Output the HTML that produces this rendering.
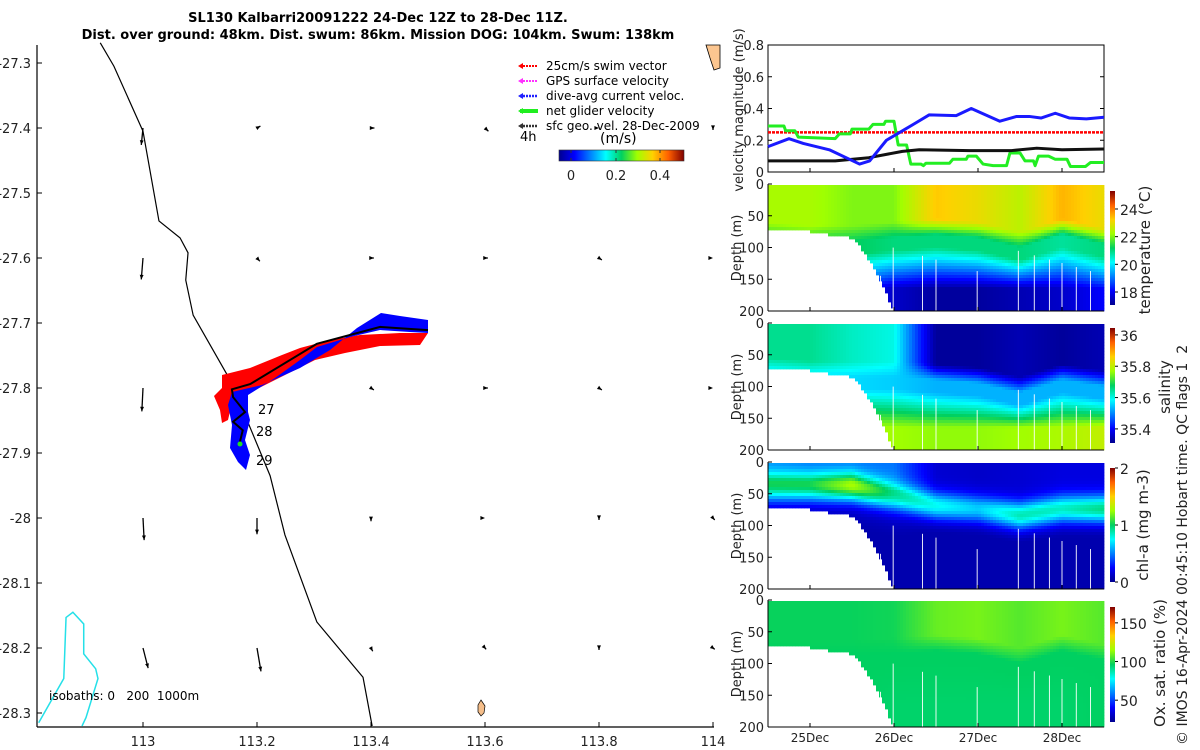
<!DOCTYPE html>
<html><head><meta charset="utf-8"><style>
body{margin:0;background:#fff;width:1200px;height:750px;overflow:hidden}
svg{display:block;font-family:"DejaVu Sans","Liberation Sans",sans-serif}
text{white-space:pre}
</style></head><body>
<svg id="s" width="1200" height="750" xmlns="http://www.w3.org/2000/svg">
<defs>
<linearGradient id="jetV" x1="0" y1="1" x2="0" y2="0">
<stop offset="0" stop-color="#00008f"/><stop offset="0.125" stop-color="#0000ff"/><stop offset="0.375" stop-color="#00ffff"/><stop offset="0.5" stop-color="#00d060"/><stop offset="0.625" stop-color="#a0ff00"/><stop offset="0.75" stop-color="#ffd000"/><stop offset="0.875" stop-color="#ff6000"/><stop offset="1" stop-color="#800000"/></linearGradient>
<linearGradient id="jetH" x1="0" y1="0" x2="1" y2="0">
<stop offset="0" stop-color="#00008f"/><stop offset="0.125" stop-color="#0000ff"/><stop offset="0.375" stop-color="#00ffff"/><stop offset="0.5" stop-color="#00d060"/><stop offset="0.625" stop-color="#a0ff00"/><stop offset="0.75" stop-color="#ffd000"/><stop offset="0.875" stop-color="#ff6000"/><stop offset="1" stop-color="#800000"/></linearGradient>
</defs>
<text x="378" y="22" text-anchor="middle" font-size="13" font-weight="bold">SL130 Kalbarri20091222 24-Dec 12Z to 28-Dec 11Z.</text>
<text x="378" y="39" text-anchor="middle" font-size="13" font-weight="bold">Dist. over ground: 48km. Dist. swum: 86km. Mission DOG: 104km. Swum: 138km</text>
<g id="map"></g>
<g id="right"></g>
</svg>
<script>
// ---- velocity panel data (days since 24-Dec 12Z) ----
const blueT=[0,0.25,0.42,0.73,1.09,1.21,1.41,1.73,1.92,2.24,2.42,2.76,2.96,3.11,3.25,3.42,3.59,3.79,4];
const blueV=[0.16,0.21,0.18,0.14,0.05,0.07,0.2,0.3,0.36,0.355,0.4,0.32,0.35,0.35,0.34,0.37,0.34,0.335,0.345];
const greenT=[0,0.19,0.21,0.32,0.36,0.8,0.85,0.98,1.0,1.2,1.25,1.38,1.4,1.5,1.55,1.65,1.7,1.82,1.85,1.88,2.16,2.2,2.36,2.38,2.48,2.56,2.68,2.84,2.88,3.0,3.06,3.16,3.18,3.22,3.34,3.42,3.56,3.6,3.78,3.84,4];
const greenV=[0.29,0.29,0.26,0.26,0.22,0.21,0.24,0.24,0.27,0.27,0.3,0.3,0.32,0.32,0.17,0.17,0.05,0.05,0.04,0.055,0.055,0.08,0.08,0.1,0.1,0.05,0.04,0.04,0.12,0.12,0.07,0.07,0.04,0.1,0.1,0.08,0.08,0.035,0.035,0.06,0.06];
const blackT=[0,0.8,1.2,1.6,1.8,2.4,2.9,3.2,3.5,4];
const blackV=[0.07,0.07,0.09,0.13,0.14,0.135,0.135,0.15,0.14,0.145];
const swimV=0.25;
const velTicks=[0,0.2,0.4,0.6,0.8];
const dayLabels=["25Dec","26Dec","27Dec","28Dec"];
const dayTicks=[0.5,1.5,2.5,3.5];
// ---- section profiles at t=0,0.5,...,4 ----
const profT=[0,0.5,1,1.5,2,2.5,3,3.5,4];
const tempUpper=[22.3,22.3,22.0,22.0,23.3,23.0,22.5,23.5,23.0];
const tempMld=[60,65,65,60,55,60,75,55,70];
const tempMid=[21.3,21.3,21.2,21.0,21.0,21.0,21.0,20.8,21.0];
const tempDeep=[18.5,18.5,18.3,17.6,17.2,17.2,17.4,17.6,18.1];
const salUpper=[35.65,35.65,35.62,35.6,35.32,35.32,35.34,35.32,35.34];
const salMld=[55,60,60,60,65,70,85,65,75];
const salMid=[35.56,35.56,35.56,35.55,35.53,35.53,35.53,35.53,35.53];
const salDeep=[35.78,35.78,35.78,35.77,35.76,35.76,35.77,35.78,35.8];
const chlSurf=[0.5,0.45,0.45,0.45,0.12,0.1,0.12,0.15,0.15];
const chlPeak=[0.6,0.65,0.9,0.55,0.65,0.55,0.75,0.7,0.8];
const chlPeakDepth=[40,40,40,55,70,75,85,75,75];
const oxUpper=[97,97,97,98,108,110,106,110,106];
const oxMld=[60,65,65,60,55,60,75,55,70];
const oxMid=[96,96,96,96,96,96,96,96,96];
const oxDeep=[96,96,96,95,95,95,95,95,96];
const bottomT=[0,0.25,0.5,0.75,1.0,1.1,1.25,1.4,1.5,4];
const bottomD=[70,72,75,80,85,100,130,170,200,205];
const gapT=[1.34,1.49,1.84,2.0,2.49,2.98,3.17,3.35,3.5,3.67,3.84];
// ---- map data ----
const isoT200=[[112.925,-27.269],[112.949,-27.305],[113.0,-27.405],[113.028,-27.543],[113.065,-27.569],[113.079,-27.592],[113.075,-27.634],[113.088,-27.688],[113.153,-27.788],[113.179,-27.842],[113.223,-27.935],[113.249,-28.026],[113.305,-28.16],[113.386,-28.245],[113.402,-28.32]];
const isoT1000=[[112.817,-28.315],[112.861,-28.247],[112.865,-28.153],[112.877,-28.145],[112.896,-28.163],[112.896,-28.209],[112.917,-28.232],[112.921,-28.247],[112.9,-28.307],[112.893,-28.32]];
const trackLon=[113.5,113.416,113.305,113.188,113.156,113.158,113.179,113.158,113.175,113.17];
const trackLat=[-27.711,-27.706,-27.732,-27.794,-27.802,-27.814,-27.837,-27.852,-27.865,-27.883];
const arrowLon=[113,113.2,113.4,113.6,113.8,114];
const arrowLat=[-27.4,-27.6,-27.8,-28.0,-28.2];
const arrowU=[[-0.003,0.006,0.006,0.006,0,0],[-0.003,0.005,0.005,0.005,0.005,0],[-0.002,0,0.005,0.005,0.005,0],[0.002,0,0,0,0,0.003],[0.009,0.007,0.003,0.002,0,0.003]];
const arrowV=[[-0.026,0.003,0,-0.005,0,-0.003],[-0.033,-0.005,0,0,-0.003,0],[-0.036,0,-0.003,0,-0.003,0],[-0.034,-0.025,-0.005,0,-0.003,-0.003],[-0.031,-0.036,-0.005,-0.002,-0.003,-0.002]];

const NS="http://www.w3.org/2000/svg";
function mk(parent,tag,attrs,text){const e=document.createElementNS(NS,tag);for(const k in attrs)e.setAttribute(k,attrs[k]);if(text!==undefined)e.textContent=text;parent.appendChild(e);return e;}
function jet(f){f=Math.max(0,Math.min(1,f));const st=[[0,0,0,143],[0.125,0,0,255],[0.375,0,255,255],[0.5,0,208,96],[0.625,160,255,0],[0.75,255,208,0],[0.875,255,96,0],[1,128,0,0]];
for(let i=1;i<st.length;i++){if(f<=st[i][0]){const a=st[i-1],b=st[i],u=(f-a[0])/(b[0]-a[0]);return `rgb(${Math.round(a[1]+u*(b[1]-a[1]))},${Math.round(a[2]+u*(b[2]-a[2]))},${Math.round(a[3]+u*(b[3]-a[3]))})`;}}return "rgb(128,0,0)";}
function interp(xs,ys,x){if(x<=xs[0])return ys[0];for(let i=1;i<xs.length;i++){if(x<=xs[i]){const u=(x-xs[i-1])/(xs[i]-xs[i-1]);return ys[i-1]+u*(ys[i]-ys[i-1]);}}return ys[ys.length-1];}

// ================= MAP =================
const map=document.getElementById('map');
const lonX=lon=>143+(lon-113)*570, latY=lat=>63+(-27.3-lat)*650;
mk(map,'line',{x1:37,y1:45,x2:37,y2:727,stroke:'#000','stroke-width':1.2,});
mk(map,'line',{x1:37,y1:727,x2:714,y2:727,stroke:'#000','stroke-width':1.2,});
[-27.3,-27.4,-27.5,-27.6,-27.7,-27.8,-27.9,-28,-28.1,-28.2,-28.3].forEach(l=>{const y=latY(l);
mk(map,'line',{x1:37,y1:y,x2:42,y2:y,stroke:'#000'});
const t=mk(map,'text',{x:31,y:y+5,'text-anchor':'end','font-size':13,fill:'#222'},String(l));
});
[113,113.2,113.4,113.6,113.8,114].forEach(l=>{const x=lonX(l);
mk(map,'line',{x1:x,y1:727,x2:x,y2:722,stroke:'#000'});
const t=mk(map,'text',{x:x,y:746,'text-anchor':'middle','font-size':13,fill:'#222'},String(l));
});
mk(map,'path',{d:'M706,45 L720,45 L720,68 L714,70 L710,58 Z',fill:'#fcc690',stroke:'#000','stroke-width':0.8,});
mk(map,'path',{d:'M481,700 L485,706 L484,713 L481,716 L478,712 L478,705 Z',fill:'#f5be8a',stroke:'#000','stroke-width':0.7,});
const p200=mk(map,'polyline',{points:isoT200.map(p=>lonX(p[0])+','+latY(p[1])).join(' '),fill:'none',stroke:'#000','stroke-width':1.2});

const p1000=mk(map,'polyline',{points:isoT1000.map(p=>lonX(p[0])+','+latY(p[1])).join(' '),fill:'none',stroke:'#25e0e8','stroke-width':1.5});

mk(map,'text',{x:49,y:700,'font-size':12,'xml:space':'preserve',},'isobaths: 0   200  1000m');
arrowLat.forEach((la,i)=>arrowLon.forEach((lo,j)=>{const x1=lonX(lo),y1=latY(la);const x2=lonX(lo+arrowU[i][j]),y2=latY(la+arrowV[i][j]);
const g=mk(map,'g',{});
mk(g,'line',{x1:x1,y1:y1,x2:x2,y2:y2,stroke:'#000','stroke-width':1.3});
const a=Math.atan2(y2-y1,x2-x1),h=5;
mk(g,'path',{d:`M${x2},${y2} L${x2-h*Math.cos(a-0.4)},${y2-h*Math.sin(a-0.4)} L${x2-h*Math.cos(a+0.4)},${y2-h*Math.sin(a+0.4)} Z`,fill:'#000'});}));
mk(map,'path',{d:'M222,375 L250,368 L282,355 L300,348 L330,340 L360,335 L400,333 L428,333 L420,345 L380,346 L345,353 L315,360 L285,375 L255,390 L240,398 L232,403 L228,420 L222,423 L220,410 L214,396 L222,388 Z',fill:'#ff0000',});
mk(map,'path',{d:'M232,392 L262,385 L300,368 L330,350 L357,328 L381,313 L400,316 L428,320 L428,333 L410,332 L380,330 L350,337 L317,347 L300,360 L275,378 L248,395 L248,412 L250,420 L245,440 L250,455 L246,470 L238,462 L230,448 L232,425 L228,405 Z',fill:'#0000ff',});
const tr=mk(map,'polyline',{points:trackLon.map((l,i)=>lonX(l)+','+latY(trackLat[i])).join(' '),fill:'none',stroke:'#000','stroke-width':2});

mk(map,'circle',{cx:240,cy:444,r:2.5,fill:'#22dd22',});
[['27',258,414],['28',256,436],['29',256,465]].forEach(d=>{const t=mk(map,'text',{x:d[1],y:d[2],'font-size':13},d[0]);});
const leg=[['#ff0000','25cm/s swim vector',1],['#ff30ff','GPS surface velocity',1],['#2020ff','dive-avg current veloc.',1.5],['#20ee20','net glider velocity',3],['#333','sfc geo. vel. 28-Dec-2009',1.5]];
leg.forEach((l,i)=>{const y=66+i*15;const g=mk(map,'g',{});
mk(g,'line',{x1:520,y1:y,x2:538,y2:y,stroke:l[0],'stroke-width':l[2]+1,'stroke-dasharray':l[2]<2?'2,1':'none'});
mk(g,'path',{d:`M518,${y} L523,${y-3} L523,${y+3} Z`,fill:l[0]});
mk(g,'text',{x:546,y:y+4,'font-size':12},l[1]);});
mk(map,'text',{x:520,y:141,'font-size':13,},'4h');
mk(map,'text',{x:600,y:143,'font-size':14,},'(m/s)');
mk(map,'rect',{x:559,y:150,width:125,height:11,fill:'url(#jetH)',stroke:'#333','stroke-width':0.6,});
[[0,571],[0.2,616],[0.4,660]].forEach(d=>{mk(map,'line',{x1:d[1],y1:150,x2:d[1],y2:153,stroke:'#333'});mk(map,'line',{x1:d[1],y1:161,x2:d[1],y2:158,stroke:'#333'});
const t=mk(map,'text',{x:d[1],y:180,'text-anchor':'middle','font-size':13,fill:'#222'},String(d[0]));});

// ================= RIGHT PANELS =================
const R=document.getElementById('right');
const X0=768,X1=1104,tX=t=>X0+t*84;
const vTop=45,vBot=172,vY=v=>vBot-v*(vBot-vTop)/0.8;
mk(R,'rect',{x:X0,y:vTop,width:X1-X0,height:vBot-vTop,fill:'none',stroke:'#000',});
velTicks.forEach(v=>{const y=vY(v);mk(R,'line',{x1:X0,y1:y,x2:X0+4,y2:y,stroke:'#000'});mk(R,'line',{x1:X1,y1:y,x2:X1-4,y2:y,stroke:'#000'});
const t=mk(R,'text',{x:X0-4,y:y+5,'text-anchor':'end','font-size':13,fill:'#222'},String(v));});
dayTicks.forEach(d=>mk(R,'line',{x1:tX(d),y1:vBot,x2:tX(d),y2:vBot-4,stroke:'#000'}));
mk(R,'text',{x:0,y:0,transform:`translate(743,110) rotate(-90)`,'text-anchor':'middle','font-size':13,fill:'#222',},'velocity magnitude (m/s)');
const sw=mk(R,'line',{x1:X0,y1:vY(swimV),x2:X1,y2:vY(swimV),stroke:'#ff0000','stroke-width':2.5,'stroke-dasharray':'3,1'});

function series(T,V,col,w,name){const p=mk(R,'polyline',{points:T.map((t,i)=>tX(t)+','+vY(V[i])).join(' '),fill:'none',stroke:col,'stroke-width':w,'stroke-linejoin':'round'});
}
series(greenT,greenV,'#22ee22',3,'net-glider-velocity-line');
series(blackT,blackV,'#111',3,'geostrophic-velocity-line');
series(blueT,blueV,'#1a1aff',3,'current-velocity-line');

function profVal(arrU,arrM,arrMid,arrD,t,d){const u=interp(profT,arrU,t),m=interp(profT,arrM,t),mi=interp(profT,arrMid,t),de=interp(profT,arrD,t);
if(d<m)return u;if(d<m+25)return u+(mi-u)*(d-m)/25;if(d<m+45)return mi;return mi+(de-mi)*Math.min(1,(d-m-45)/Math.max(20,165-m-45));}
const panels=[
{top:184,name:'temperature',lo:17.06,hi:25.3,f:(t,d)=>profVal(tempUpper,tempMld,tempMid,tempDeep,t,d),cbTop:191,cbBot:305,ticks:[18,20,22,24],label:'temperature (°C)',lx:1150,ly:250},
{top:323,name:'salinity',lo:35.31,hi:36.044,f:(t,d)=>profVal(salUpper,salMld,salMid,salDeep,t,d),cbTop:328,cbBot:443,ticks:[35.4,35.6,35.8,36],label:'salinity',lx:1170,ly:387},
{top:462,name:'chlorophyll',lo:0,hi:2,f:(t,d)=>{const s=interp(profT,chlSurf,t),pk=interp(profT,chlPeak,t),pd=interp(profT,chlPeakDepth,t);let v=s*Math.exp(-Math.max(0,d-pd+10)/30)+pk*Math.exp(-Math.pow((d-pd)/22,2));if(d>pd+40)v=Math.max(0.04,v);return v+0.03;},cbTop:468,cbBot:582,ticks:[0,1,2],label:'chl-a (mg m-3)',lx:1148,ly:525},
{top:600,name:'oxygen',lo:21.8,hi:170.5,f:(t,d)=>profVal(oxUpper,oxMld,oxMid,oxDeep,t,d),cbTop:607,cbBot:722,ticks:[50,100,150],label:'Ox. sat. ratio (%)',lx:1165,ly:663}];
panels.forEach((P,pi)=>{const top=P.top,bot=top+127,dY=d=>top+d*127/200;
const g=mk(R,'g',{});
const cw=3,ch=3;
for(let x=X0;x<X1;x+=cw){const t=(x+cw/2-X0)/84;const bd=interp(bottomT,bottomD,t);
for(let y=top+1;y<bot;y+=ch){const d=(y+ch/2-top)*200/127;if(d>bd)break;
const v=P.f(t,d);mk(g,'rect',{x:x,y:y,width:cw+0.4,height:ch+0.4,fill:jet((v-P.lo)/(P.hi-P.lo))});}}
gapT.forEach(t=>{const x=tX(t);mk(g,'line',{x1:x,y1:dY(95+(t*37)%50),x2:x,y2:bot,stroke:'#fff','stroke-width':0.9});});
mk(R,'line',{x1:X0,y1:top,x2:X0,y2:bot,stroke:'#000'});
mk(R,'line',{x1:X0,y1:bot,x2:X1,y2:bot,stroke:'#000'});
[0,50,100,150,200].forEach(d=>{const y=dY(d);mk(R,'line',{x1:X0,y1:y,x2:X0+4,y2:y,stroke:'#000'});
const t=mk(R,'text',{x:X0-4,y:y+5,'text-anchor':'end','font-size':13,fill:'#222'},String(d));});
dayTicks.forEach(d=>mk(R,'line',{x1:tX(d),y1:bot,x2:tX(d),y2:bot-4,stroke:'#000'}));
const yl=mk(R,'text',{x:0,y:0,transform:`translate(741,${top+64}) rotate(-90)`,'text-anchor':'middle','font-size':13,fill:'#222'},'Depth (m)');

const cb=mk(R,'rect',{x:1110,y:P.cbTop,width:5,height:P.cbBot-P.cbTop,fill:'url(#jetV)'});

P.ticks.forEach(v=>{const y=P.cbBot-(v-P.lo)/(P.hi-P.lo)*(P.cbBot-P.cbTop);mk(R,'line',{x1:1115,y1:y,x2:1118,y2:y,stroke:'#000'});
const t=mk(R,'text',{x:1120,y:y+6,'font-size':14,fill:'#222'},String(v));});
const lb=mk(R,'text',{x:0,y:0,transform:`translate(${P.lx},${P.ly}) rotate(-90)`,'text-anchor':'middle','font-size':15,fill:'#222'},P.label);
});
dayLabels.forEach((l,i)=>{const t=mk(R,'text',{x:tX(dayTicks[i]),y:742,'text-anchor':'middle','font-size':12,fill:'#222'},l);});
mk(R,'text',{x:0,y:0,transform:'translate(1187,745) rotate(-90)','font-size':14,fill:'#222','xml:space':'preserve',},'© IMOS 16-Apr-2024 00:45:10 Hobart time. QC flags 1  2');
</script>
</body></html>
